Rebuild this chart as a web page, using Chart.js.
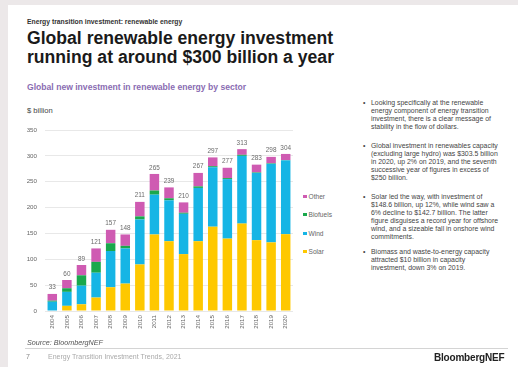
<!DOCTYPE html>
<html>
<head>
<meta charset="utf-8">
<script src="https://cdn.jsdelivr.net/npm/chart.js@4/dist/chart.umd.min.js"></script>
<style>
  html, body { margin: 0; padding: 0; }
  body { width: 518px; height: 367px; background: #ece8e9; position: relative; overflow: hidden;
         font-family: "Liberation Sans", Arial, sans-serif; }
  #slide { position: absolute; left: 8px; top: 5px; width: 510px; height: 362px; background: #fff; }
  .abs { position: absolute; white-space: nowrap; }
  #kicker { left: 27px; top: 18px; font-size: 6.8px; font-weight: bold; color: #333; }
  #title { left: 27px; top: 29px; font-size: 17.6px; font-weight: bold; color: #1a1a1a; line-height: 19px; }
  #subtitle { left: 27px; top: 82px; font-size: 8.6px; color: #8a6cb2; font-weight: bold; }
  #unit { left: 27px; top: 106px; font-size: 7.6px; color: #444; }
  #chartBox { position: absolute; left: 0; top: 0; width: 300px; height: 345px; }
  #legend { position: absolute; left: 303px; top: 0; }
  .lg { position: absolute; left: 0; font-size: 6.6px; color: #666; white-space: nowrap; line-height: 8px; }
  .lg i { display: inline-block; width: 3.5px; height: 3.5px; margin-right: 2px; vertical-align: 1px; }
  .para { position: absolute; left: 363px; font-size: 6.9px; color: #444; line-height: 8px; white-space: nowrap; }
  .para b { position: absolute; left: 0; top: 0; font-weight: normal; }
  .para span { display: block; margin-left: 8px; }
  #source { left: 27px; top: 338px; font-size: 7.2px; color: #555; font-style: italic; }
  #rule { position: absolute; left: 25px; top: 348px; width: 483px; height: 1px; background: #d4d4d4; }
  #page { left: 26px; top: 353px; font-size: 7px; color: #888; }
  #footer { left: 48px; top: 353px; font-size: 7px; color: #aaa; }
  #brand { left: 434px; top: 352px; font-size: 10px; font-weight: bold; color: #222; letter-spacing: -0.2px; }
</style>
</head>
<body>
<div id="slide"></div>
<div class="abs" id="kicker">Energy transition investment: renewable energy</div>
<div class="abs" id="title">Global renewable energy investment<br>running at around $300 billion a year</div>
<div class="abs" id="subtitle">Global new investment in renewable energy by sector</div>
<div class="abs" id="unit">$ billion</div>

<div id="chartBox"><canvas id="chart" width="300" height="345"></canvas></div>
<div id="legend"></div>

<div class="para" style="top:99px"><b>•</b><span>Looking specifically at the renewable</span><span>energy component of energy transition</span><span>investment, there is a clear message of</span><span>stability in the flow of dollars.</span></div>
<div class="para" style="top:142px"><b>•</b><span>Global investment in renewables capacity</span><span>(excluding large hydro) was $303.5 billion</span><span>in 2020, up 2% on 2019, and the seventh</span><span>successive year of figures in excess of</span><span>$250 billion.</span></div>
<div class="para" style="top:193px"><b>•</b><span>Solar led the way, with investment of</span><span>$148.6 billion, up 12%, while wind saw a</span><span>6% decline to $142.7 billion. The latter</span><span>figure disguises a record year for offshore</span><span>wind, and a sizeable fall in onshore wind</span><span>commitments.</span></div>
<div class="para" style="top:248px"><b>•</b><span>Biomass and waste-to-energy capacity</span><span>attracted $10 billion in capacity</span><span>investment, down 3% on 2019.</span></div>

<div class="abs" id="source">Source: BloombergNEF</div>
<div id="rule"></div>
<div class="abs" id="page">7</div>
<div class="abs" id="footer">Energy Transition Investment Trends, 2021</div>
<div class="abs" id="brand">BloombergNEF</div>

<script>
// Years and sector investment, $ billion
const years = ['2004','2005','2006','2007','2008','2009','2010','2011','2012','2013','2014','2015','2016','2017','2018','2019','2020'];
const solar    = [1, 10, 13, 26, 46, 53, 90, 148, 135, 110, 135, 163, 140, 169, 137, 132.7, 148.6];
const wind     = [17, 27, 36, 48, 70, 68, 87, 77, 79, 78, 103, 115, 115, 131, 130, 151.8, 142.7];
const biofuels = [2, 7, 20, 21, 15, 5, 6, 8, 4, 2, 3, 2, 2, 2, 1, 1, 0.5];
const other    = [13, 16, 20, 26, 26, 22, 28, 32, 21, 20, 26, 17, 20, 11, 15, 12.5, 11.9];
const yTicks   = [0, 50, 100, 150, 200, 250, 300, 350];

const seriesNames  = ['Solar', 'Wind', 'Biofuels', 'Other'];
const seriesValues = [solar, wind, biofuels, other];
const seriesColors = ['#fec800', '#16b5e5', '#1aa84c', '#cf5bb2'];

const datasets = seriesNames.map((name, k) => ({
  label: name,
  data: seriesValues[k],
  backgroundColor: seriesColors[k],
  borderWidth: 0,
  barPercentage: 0.65,
  categoryPercentage: 1.0
}));

// Writes the stacked total above each bar
const totalsPlugin = {
  id: 'totals',
  afterDatasetsDraw(chart) {
    const ctx = chart.ctx;
    const top = chart.getDatasetMeta(chart.data.datasets.length - 1);
    ctx.save();
    ctx.font = '6.4px "Liberation Sans", Arial, sans-serif';
    ctx.fillStyle = '#6b6b6b';
    ctx.textAlign = 'center';
    ctx.textBaseline = 'bottom';
    years.forEach((y, i) => {
      const total = seriesValues.reduce((s, arr) => s + arr[i], 0);
      const el = top.data[i];
      ctx.fillText(String(Math.round(total)), el.x, el.y - 3);
    });
    ctx.restore();
  }
};

new Chart(document.getElementById('chart'), {
  type: 'bar',
  data: { labels: years, datasets },
  plugins: [totalsPlugin],
  options: {
    responsive: false,
    animation: false,
    layout: { padding: { top: 130, left: 0, right: 7, bottom: 0 } },
    plugins: { legend: { display: false }, tooltip: { enabled: false } },
    scales: {
      x: {
        stacked: true,
        grid: { display: false, drawTicks: false },
        border: { display: false },
        ticks: {
          autoSkip: false, minRotation: 90, maxRotation: 90, padding: 4,
          color: '#666', font: { size: 6.2, family: '"Liberation Sans", Arial, sans-serif' }
        },
        afterFit(scale) { scale.height = 34; }
      },
      y: {
        stacked: true,
        min: 0, max: 350,
        afterBuildTicks(scale) { scale.ticks = yTicks.map(v => ({ value: v })); },
        grid: { color: '#e8e8e8', lineWidth: 1, drawTicks: false },
        border: { display: false },
        ticks: {
          padding: 8, color: '#666',
          font: { size: 6.2, family: '"Liberation Sans", Arial, sans-serif' }
        },
        afterFit(scale) { scale.width = 45; }
      }
    }
  }
});

// Legend, top series first
const legend = document.getElementById('legend');
const legendTops = [193, 211, 230, 248];
[3, 2, 1, 0].forEach((k, j) => {
  const d = document.createElement('div');
  d.className = 'lg';
  d.style.top = legendTops[j] + 'px';
  d.innerHTML = '<i style="background:' + seriesColors[k] + '"></i>' + seriesNames[k];
  legend.appendChild(d);
});
</script>
</body>
</html>
